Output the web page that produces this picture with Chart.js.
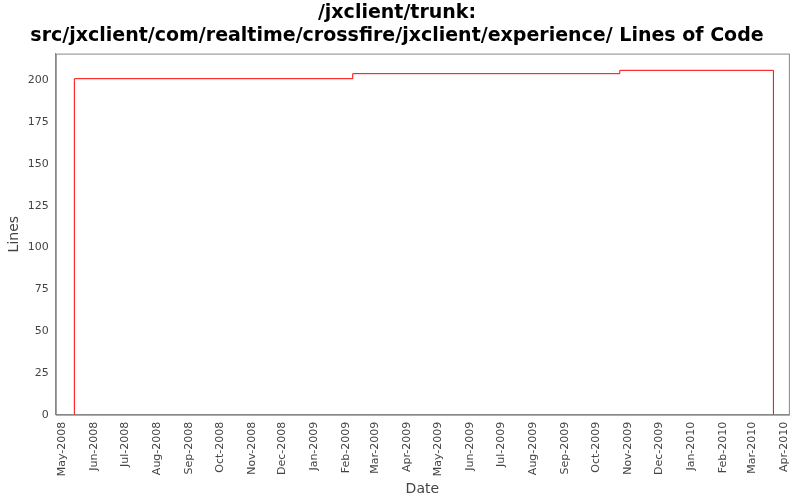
<!DOCTYPE html>
<html>
<head>
<meta charset="utf-8">
<script src="https://cdn.jsdelivr.net/npm/chart.js@4/dist/chart.umd.min.js"></script>
<style>
  html, body { margin: 0; padding: 0; background: #fff; }
  #wrap { width: 800px; height: 500px; }
</style>
</head>
<body>
<div id="wrap"><canvas id="c"></canvas></div>
<script>
// step points (date, lines)
const dates = ['2008-05-13', '2008-05-13', '2009-02-07', '2009-10-24', '2010-02-04', '2010-03-22', '2010-03-22'];
const lines = [0, 200, 201, 204, 206, 206, 0];
const tickMonths = ['2008-05', '2008-06', '2008-07', '2008-08', '2008-09', '2008-10', '2008-11', '2008-12',
    '2009-01', '2009-02', '2009-03', '2009-04', '2009-05', '2009-06', '2009-07', '2009-08', '2009-09',
    '2009-10', '2009-11', '2009-12', '2010-01', '2010-02', '2010-03', '2010-04'];
const monthNames = ['Jan', 'Feb', 'Mar', 'Apr', 'May', 'Jun', 'Jul', 'Aug', 'Sep', 'Oct', 'Nov', 'Dec'];

const DAY = 86400000;
function toDay(s) {
    const p = s.split('-').map(Number);
    return Date.UTC(p[0], p[1] - 1, p[2] || 1) / DAY;
}
function monthLabel(d) {
    const dt = new Date(d * DAY);
    return monthNames[dt.getUTCMonth()] + '-' + dt.getUTCFullYear();
}

const points = dates.map((d, i) => ({ x: toDay(d), y: lines[i] }));
const tickVals = tickMonths.map(toDay);

new Chart(document.getElementById('c'), {
    type: 'line',
    data: {
        datasets: [{
            data: points,
            borderColor: '#ff0000',
            borderWidth: 1,
            pointRadius: 0,
            stepped: 'after',
            fill: false
        }]
    },
    options: {
        responsive: true,
        maintainAspectRatio: false,
        animation: false,
        layout: { padding: { left: 4, right: 10, top: 0, bottom: 0 } },
        plugins: {
            legend: { display: false },
            tooltip: { enabled: false },
            title: {
                display: true,
                text: ['/jxclient/trunk:', 'src/jxclient/com/realtime/crossfire/jxclient/experience/ Lines of Code'],
                color: '#000',
                font: { family: 'DejaVu Sans', size: 19, weight: 'bold', lineHeight: 1.2 },
                padding: { top: 2, bottom: 6 }
            }
        },
        scales: {
            x: {
                type: 'linear',
                min: toDay('2008-04-25'),
                max: toDay('2010-04-06'),
                afterBuildTicks: axis => { axis.ticks = tickVals.map(v => ({ value: v })); },
                ticks: {
                    autoSkip: false,
                    maxRotation: 90,
                    minRotation: 90,
                    color: '#444',
                    font: { family: 'DejaVu Sans', size: 11 },
                    callback: v => monthLabel(v)
                },
                grid: { display: false, drawTicks: true, tickLength: 4, tickColor: '#888' },
                border: { color: '#888' },
                title: { display: true, text: 'Date', color: '#444', font: { family: 'DejaVu Sans', size: 14 }, padding: 2 }
            },
            y: {
                min: 0,
                max: 216,
                afterBuildTicks: axis => { axis.ticks = [0, 25, 50, 75, 100, 125, 150, 175, 200].map(v => ({ value: v })); },
                ticks: { color: '#444', font: { family: 'DejaVu Sans', size: 11 } },
                grid: { display: false, drawTicks: true, tickLength: 4, tickColor: '#888' },
                border: { color: '#888' },
                title: { display: true, text: 'Lines', color: '#444', font: { family: 'DejaVu Sans', size: 14 }, padding: 2 }
            }
        }
    },
    plugins: [{
        id: 'frame',
        afterDraw(chart) {
            const a = chart.chartArea, ctx = chart.ctx;
            ctx.save();
            ctx.strokeStyle = '#888';
            ctx.lineWidth = 1;
            ctx.strokeRect(a.left + 0.5, a.top + 0.5, a.right - a.left, a.bottom - a.top);
            ctx.restore();
        }
    }]
});
</script>
</body>
</html>
